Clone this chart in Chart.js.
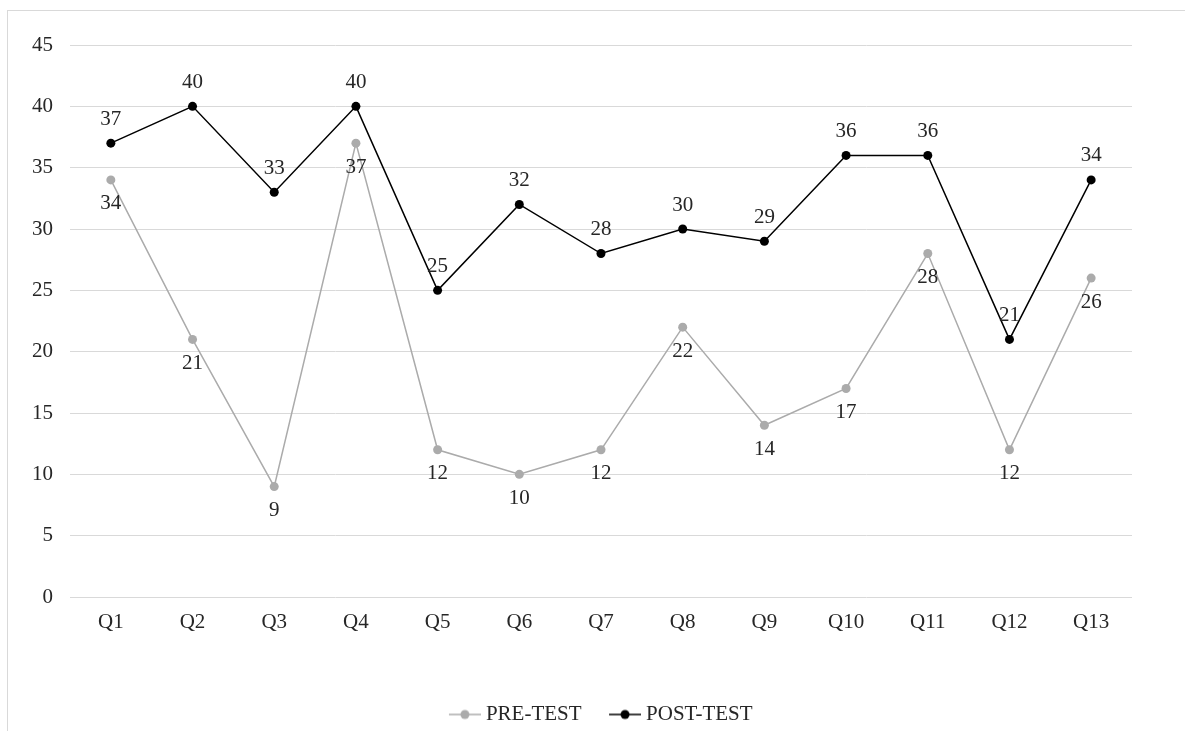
<!DOCTYPE html>
<html>
<head>
<meta charset="utf-8">
<script src="https://cdn.jsdelivr.net/npm/chart.js@4.4.1/dist/chart.umd.min.js"></script>
<style>
  html, body { margin: 0; padding: 0; background: #fff; overflow: hidden; }
  #wrap { position: relative; width: 1185px; height: 731px; overflow: hidden; }
  #frame { position: absolute; left: 7px; top: 10px; width: 1300px; height: 900px;
           border: 1px solid #d9d9d9; box-sizing: border-box; }
  canvas { position: absolute; left: 0; top: 0; }
</style>
</head>
<body>
<div id="wrap">
  <div id="frame"></div>
  <canvas id="chart" width="1185" height="731"></canvas>
</div>
<script>
const categories = ['Q1','Q2','Q3','Q4','Q5','Q6','Q7','Q8','Q9','Q10','Q11','Q12','Q13'];
const preTest  = [34, 21, 9, 37, 12, 10, 12, 22, 14, 17, 28, 12, 26];
const postTest = [37, 40, 33, 40, 25, 32, 28, 30, 29, 36, 36, 21, 34];
const yTicks = [0, 5, 10, 15, 20, 25, 30, 35, 40, 45];

const FONT = "'Liberation Serif', 'Times New Roman', serif";
const FONT_SIZE = 21;
const TEXT = '#262626';
const PRE_COLOR = '#ababab';
const POST_COLOR = '#000000';

// legend marker: short line with a dot, drawn at the right end of a wider image
function legendMarker(color) {
  const c = document.createElement('canvas');
  c.width = 47; c.height = 12;
  const g = c.getContext('2d');
  g.strokeStyle = color; g.lineWidth = 1.5;
  g.beginPath(); g.moveTo(15, 6); g.lineTo(47, 6); g.stroke();
  g.fillStyle = color;
  g.beginPath(); g.arc(31, 6, 4.5, 0, Math.PI * 2); g.fill();
  return c;
}

// value labels: above the points of one series, below the other
const valueLabels = {
  id: 'valueLabels',
  afterDatasetsDraw(chart) {
    const ctx = chart.ctx;
    ctx.save();
    ctx.font = FONT_SIZE + 'px ' + FONT;
    ctx.fillStyle = TEXT;
    ctx.textAlign = 'center';
    ctx.textBaseline = 'middle';
    chart.data.datasets.forEach((ds, i) => {
      const meta = chart.getDatasetMeta(i);
      const dy = ds.labelSide === 'above' ? -24 : 24;
      meta.data.forEach((pt, j) => {
        ctx.fillText(String(ds.data[j]), pt.x, pt.y + dy);
      });
    });
    ctx.restore();
  }
};

// centre the legend on the page rather than on the padded layout box
const legendShift = {
  id: 'legendShift',
  afterLayout(chart) {
    const lg = chart.legend;
    if (!lg) return;
    lg.left += 30; lg.right += 30;
    lg.top += 4; lg.bottom += 4;
  }
};

new Chart(document.getElementById('chart'), {
  type: 'line',
  data: {
    labels: categories,
    datasets: [
      {
        label: 'PRE-TEST',
        data: preTest,
        labelSide: 'below',
        borderColor: PRE_COLOR,
        backgroundColor: PRE_COLOR,
        borderWidth: 1.5,
        pointRadius: 4.5,
        pointHoverRadius: 4.5,
        pointBorderWidth: 0,
        pointStyle: 'circle',
        tension: 0,
        legendMarker: legendMarker(PRE_COLOR)
      },
      {
        label: 'POST-TEST',
        data: postTest,
        labelSide: 'above',
        borderColor: POST_COLOR,
        backgroundColor: POST_COLOR,
        borderWidth: 1.5,
        pointRadius: 4.5,
        pointHoverRadius: 4.5,
        pointBorderWidth: 0,
        pointStyle: 'circle',
        tension: 0,
        legendMarker: legendMarker(POST_COLOR)
      }
    ]
  },
  options: {
    responsive: false,
    animation: false,
    layout: { padding: { top: 45, right: 53, left: 0, bottom: 0 } },
    plugins: {
      tooltip: { enabled: false },
      legend: {
        position: 'bottom',
        labels: {
          font: { family: FONT, size: FONT_SIZE },
          color: TEXT,
          usePointStyle: true,
          pointStyleWidth: 36,
          padding: 18,
          generateLabels(chart) {
            return chart.data.datasets.map((ds, i) => ({
              text: ds.label,
              fillStyle: ds.backgroundColor,
              strokeStyle: ds.borderColor,
              lineWidth: 0,
              pointStyle: ds.legendMarker,
              datasetIndex: i,
              hidden: false,
              fontColor: TEXT
            }));
          }
        }
      }
    },
    scales: {
      x: {
        offset: true,
        grid: { display: false, drawTicks: false },
        border: { display: false },
        ticks: { font: { family: FONT, size: FONT_SIZE }, color: TEXT, padding: 13, maxRotation: 0 },
        afterFit(scale) { scale.height = 85; }
      },
      y: {
        min: 0,
        max: 45,
        afterBuildTicks(scale) { scale.ticks = yTicks.map(v => ({ value: v })); },
        grid: { color: '#d9d9d9', lineWidth: 1, drawTicks: false },
        border: { display: false },
        ticks: { font: { family: FONT, size: FONT_SIZE }, color: TEXT, padding: 17 },
        afterFit(scale) { scale.width = 70; }
      }
    }
  },
  plugins: [valueLabels, legendShift]
});
</script>
</body>
</html>
